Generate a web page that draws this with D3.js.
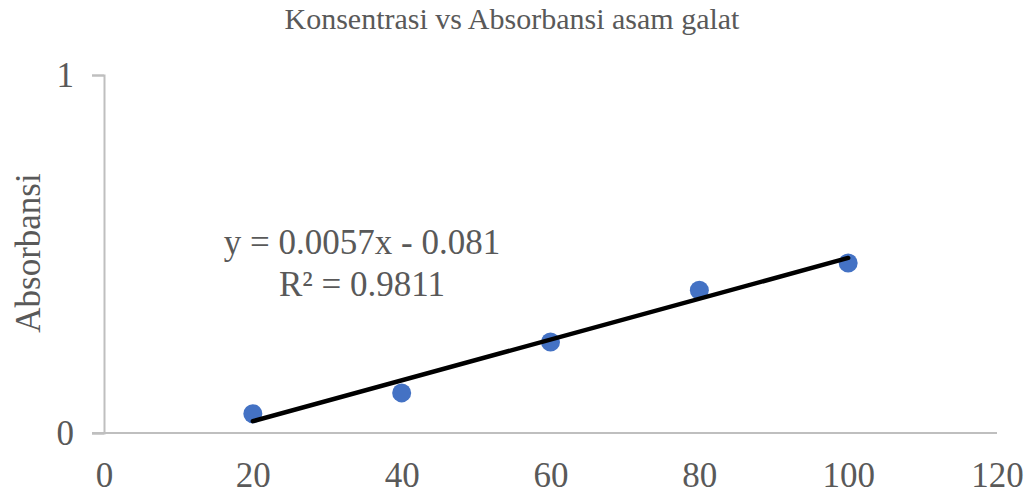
<!DOCTYPE html>
<html>
<head>
<meta charset="utf-8">
<script src="https://cdn.jsdelivr.net/npm/d3@7"></script>
<style>
  body { margin: 0; background: #fff; }
</style>
</head>
<body>
<div id="chart"></div>
<script>
// data
let konsentrasi = [20, 40, 60, 80, 100];
let absorbansi = [0.054, 0.112, 0.254, 0.399, 0.475];
let xTicks = [0, 20, 40, 60, 80, 100, 120];
let yTicks = [0, 1];
let slope = 0.0057;
let intercept = -0.081;
let eqLines = ["y = 0.0057x - 0.081", "R² = 0.9811"];

let serif = "'Liberation Serif', 'Times New Roman', Tinos, 'DejaVu Serif', serif";

let svgWidth = 1030;
let svgHeight = 497;

let margin = { top: 75, right: 33, bottom: 64, left: 104 };
let width = svgWidth - margin.left - margin.right;
let height = svgHeight - margin.top - margin.bottom;

let svg = d3.select("#chart")
  .append("svg")
  .attr("width", svgWidth)
  .attr("height", svgHeight);

let chartGroup = svg.append("g")
  .attr("transform", `translate(${margin.left}, ${margin.top})`);

let x = d3.scaleLinear().domain([0, 120]).range([0, width]);
let y = d3.scaleLinear().domain([0, 1]).range([height, 0]);

// x axis: line only, labels below
let xAxis = chartGroup.append("g")
  .attr("transform", `translate(0, ${height})`)
  .call(d3.axisBottom(x).tickValues(xTicks).tickSize(0).tickPadding(54).tickFormat(d3.format("d")));
xAxis.select(".domain").attr("stroke", "#bfbfbf").attr("stroke-width", 2)
  .attr("d", `M-12,0H${width}`);
xAxis.selectAll("text")
  .style("font-family", serif).style("font-size", "35px").style("fill", "#595959")
  .attr("dy", 0);

// y axis
let yAxis = chartGroup.append("g")
  .call(d3.axisLeft(y).tickValues(yTicks).tickSize(12).tickPadding(18).tickFormat(d3.format("d")));
yAxis.select(".domain").attr("stroke", "#bfbfbf").attr("stroke-width", 2);
yAxis.selectAll(".tick line").attr("stroke", "#bfbfbf").attr("stroke-width", 2);
yAxis.selectAll("text")
  .style("font-family", serif).style("font-size", "35px").style("fill", "#595959")
  .attr("dy", "0.33em");

// points
chartGroup.selectAll("circle")
  .data(konsentrasi)
  .enter()
  .append("circle")
  .attr("cx", d => x(d))
  .attr("cy", (d, i) => y(absorbansi[i]))
  .attr("r", 9.5)
  .attr("fill", "#4472c4");

// linear trendline
let xExt = d3.extent(konsentrasi);
chartGroup.append("line")
  .attr("x1", x(xExt[0]))
  .attr("y1", y(slope * xExt[0] + intercept))
  .attr("x2", x(xExt[1]))
  .attr("y2", y(slope * xExt[1] + intercept))
  .attr("stroke", "#000")
  .attr("stroke-width", 4.5)
  .attr("stroke-linecap", "round");

// equation label
svg.append("text")
  .attr("x", 362)
  .attr("y", 254)
  .style("font-family", serif).style("font-size", "35px").style("fill", "#595959")
  .style("text-anchor", "middle")
  .selectAll("tspan")
  .data(eqLines)
  .enter()
  .append("tspan")
  .attr("x", 362)
  .attr("dy", (d, i) => i == 0 ? 0 : 42)
  .text(d => d);

// title
svg.append("text")
  .attr("x", 512)
  .attr("y", 29)
  .style("font-family", serif).style("font-size", "30px").style("fill", "#595959")
  .style("text-anchor", "middle")
  .text("Konsentrasi vs Absorbansi asam galat");

// y axis title
svg.append("text")
  .attr("transform", "rotate(-90)")
  .attr("x", -253)
  .attr("y", 40)
  .style("font-family", serif).style("font-size", "35px").style("fill", "#595959")
  .style("text-anchor", "middle")
  .text("Absorbansi");
</script>
</body>
</html>
